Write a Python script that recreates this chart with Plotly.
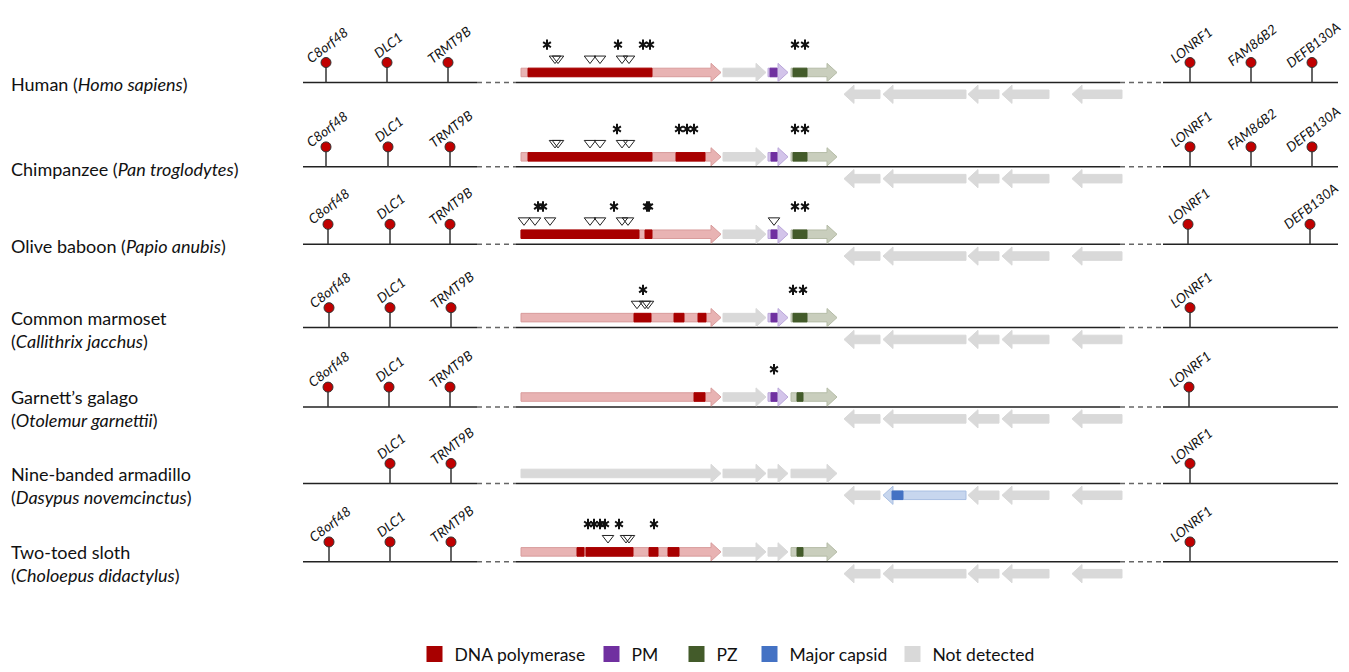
import plotly.graph_objects as go

# ---------------- data ----------------
species_labels = [
    "Human (<i>Homo sapiens</i>)",
    "Chimpanzee (<i>Pan troglodytes</i>)",
    "Olive baboon (<i>Papio anubis</i>)",
    "Common marmoset<br>(<i>Callithrix jacchus</i>)",
    "Garnett’s galago<br>(<i>Otolemur garnettii</i>)",
    "Nine-banded armadillo<br>(<i>Dasypus novemcinctus</i>)",
    "Two-toed sloth<br>(<i>Choloepus didactylus</i>)",
]

left_gene_names = ["C8orf48", "DLC1", "TRMT9B"]
left_gene_pos = [
    [326, 387, 448],
    [326, 388, 450],
    [328, 390, 450],
    [329, 390, 451],
    [328, 389, 450],
    [None, 390, 451],
    [329, 390, 451],
]
right_gene_names = ["LONRF1", "FAM86B2", "DEFB130A"]
right_gene_pos = [
    [1190, 1251, 1312],
    [1190, 1251, 1312],
    [1188, None, 1310],
    [1190, None, None],
    [1189, None, None],
    [1190, None, None],
    [1190, None, None],
]

# forward ORFs (start, tip) and reverse ORFs (tip, end)
fwd_orf_start = [521, 723, 768, 791]
fwd_orf_end = [721, 766, 788, 837]
rev_orf_tip = [844, 883, 968, 1002, 1072]
rev_orf_end = [880, 966, 999, 1049, 1122]

fwd_orf_class = [
    ["pol", "nd", "pm", "pz"],
    ["pol", "nd", "pm", "pz"],
    ["pol", "nd", "pm", "pz"],
    ["pol", "nd", "pm", "pz"],
    ["pol", "nd", "pm", "pz"],
    ["nd", "nd", "nd", "nd"],
    ["pol", "nd", "nd", "pz"],
]
rev_orf_class = [
    ["nd"] * 5, ["nd"] * 5, ["nd"] * 5, ["nd"] * 5, ["nd"] * 5,
    ["nd", "capsid", "nd", "nd", "nd"],
    ["nd"] * 5,
]

# detected protein-domain hits (start, end) per row
pol_hits = [
    [(528, 652)],
    [(528, 652), (676, 705)],
    [(521, 639), (645, 652)],
    [(634, 651), (674, 684), (698, 706)],
    [(694, 705)],
    [],
    [(577, 584), (586, 633), (649, 658), (668, 679)],
]
pm_hits = [[(770, 777)], [(771, 777)], [(771, 777)], [(771, 777)], [(771, 777)], [], []]
pz_hits = [[(793, 807)], [(793, 807)], [(793, 807)], [(793, 807)], [(797, 803)], [], [(797, 803)]]
capsid_hits = [[], [], [], [], [], [(892, 903)], []]

# stop codons (asterisks) and frameshifts (triangles)
stop_pos = [
    [547, 618, 643, 650, 795, 805],
    [617, 679, 687, 694, 795, 805],
    [538, 543, 614, 647, 649, 795, 805],
    [643, 793, 803],
    [774],
    [],
    [588, 594, 600, 605, 619, 654],
]
shift_pos = [
    [555, 558, 590, 600, 622, 629],
    [555, 558, 590, 600, 622, 629],
    [524, 535, 550, 590, 600, 622, 628, 774],
    [637, 645, 648],
    [],
    [],
    [608, 626, 629],
]

legend_names = ["DNA polymerase", "PM", "PZ", "Major capsid", "Not detected"]
legend_keys = ["pol", "pm", "pz", "capsid", "nd"]

# ---------------- layout / style ----------------
track_y = [83, 168, 246, 330, 410, 487, 566]
solid_spans = [(303, 477), (516, 1120), (1163, 1338)]
dashed_spans = [(477, 516), (1120, 1163)]
legend_square_x = [434.5, 611.5, 696.5, 769.5, 912.5]
legend_y = 659

dark_col = {"pol": "#A80000", "pm": "#7030A0", "pz": "#435B2A", "capsid": "#4472C4", "nd": "#D9D9D9"}
light_col = {"pol": "#E8B3B3", "pm": "#D3C4EA", "pz": "#C9CEBD", "capsid": "#C7D6EE", "nd": "#D9D9D9"}
edge_col = {"pol": "#D89C9C", "pm": "#BBA7DA", "pz": "#B5BCA7", "capsid": "#A9BFE2", "nd": "#D9D9D9"}

BH, HH, HL = 4.3, 9.2, 10  # body half-height, head half-height, head length
FONT = "Lato, 'Open Sans', sans-serif"
W, H = 1349, 672

fig = go.Figure()

def add_poly(xs, ys, fill, line, name):
    fig.add_trace(go.Scatter(x=xs, y=ys, mode="lines", fill="toself", fillcolor=fill,
                             line=dict(color=line, width=1), hoverinfo="skip",
                             showlegend=False, name=name))

# backbones
bx, by, dx, dy = [], [], [], []
for yb in track_y:
    for a, b in solid_spans:
        bx += [a, b, None]; by += [yb, yb, None]
    for a, b in dashed_spans:
        dx += [a, b, None]; dy += [yb, yb, None]
fig.add_trace(go.Scatter(x=bx, y=by, mode="lines", line=dict(color="#222222", width=1.5),
                         hoverinfo="skip", showlegend=False))
fig.add_trace(go.Scatter(x=dx, y=dy, mode="lines", line=dict(color="#666666", width=1.5, dash="5px,4px"),
                         hoverinfo="skip", showlegend=False))

# ORF arrows (light)
polys = {k: ([], []) for k in light_col}
for r, yb in enumerate(track_y):
    yc = yb - 10
    for s, e, c in zip(fwd_orf_start, fwd_orf_end, fwd_orf_class[r]):
        xs, ys = polys[c]
        xs += [s, e - HL, e - HL, e, e - HL, e - HL, s, s, None]
        ys += [yc - BH, yc - BH, yc - HH, yc, yc + HH, yc + BH, yc + BH, yc - BH, None]
    yc = yb + 12
    for t, e, c in zip(rev_orf_tip, rev_orf_end, rev_orf_class[r]):
        xs, ys = polys[c]
        xs += [e, t + HL, t + HL, t, t + HL, t + HL, e, e, None]
        ys += [yc - BH, yc - BH, yc - HH, yc, yc + HH, yc + BH, yc + BH, yc - BH, None]
for k, (xs, ys) in polys.items():
    if xs:
        add_poly(xs, ys, light_col[k], edge_col[k], k)

# domain hits (dark)
for key, hits, dy_off in [("pol", pol_hits, -10), ("pm", pm_hits, -10), ("pz", pz_hits, -10), ("capsid", capsid_hits, 12)]:
    xs, ys = [], []
    for r, yb in enumerate(track_y):
        yc = yb + dy_off
        for a, b in hits[r]:
            xs += [a, b, b, a, a, None]
            ys += [yc - BH, yc - BH, yc + BH, yc + BH, yc - BH, None]
    if xs:
        add_poly(xs, ys, dark_col[key], dark_col[key], key)

# flanking genes (lollipops)
sx, sy, cx, cy = [], [], [], []
for r, yb in enumerate(track_y):
    for names, poss in [(left_gene_names, left_gene_pos[r]), (right_gene_names, right_gene_pos[r])]:
        for n, p in zip(names, poss):
            if p is None:
                continue
            sx += [p, p, None]; sy += [yb - 20, yb, None]
            cx.append(p); cy.append(yb - 20)
            fig.add_annotation(x=p + 1, y=yb - 38, text=f"<i>{n}</i>", showarrow=False,
                               textangle=-38, font=dict(family=FONT, size=13.5, color="#111111"),
                               xanchor="center", yanchor="middle")
fig.add_trace(go.Scatter(x=sx, y=sy, mode="lines", line=dict(color="#333333", width=1.5),
                         hoverinfo="skip", showlegend=False))
fig.add_trace(go.Scatter(x=cx, y=cy, mode="markers",
                         marker=dict(size=10, color="#C00000", line=dict(color="#333333", width=1)),
                         hoverinfo="skip", showlegend=False))

# stop codons and frameshifts
ax, ay, tx, ty = [], [], [], []
for r, yb in enumerate(track_y):
    for p in stop_pos[r]:
        ax.append(p); ay.append(yb - 38)
    for p in shift_pos[r]:
        tx.append(p); ty.append(yb - 24)
for sym in ["y-up-open", "y-down-open"]:
    fig.add_trace(go.Scatter(x=ax, y=ay, mode="markers",
                             marker=dict(symbol=sym, size=6.5, color="#111111",
                                         line=dict(color="#111111", width=2)),
                             hoverinfo="skip", showlegend=False))
fig.add_trace(go.Scatter(x=tx, y=ty, mode="markers",
                         marker=dict(symbol="triangle-down-open", size=10, color="#222222",
                                     line=dict(color="#222222", width=1)),
                         hoverinfo="skip", showlegend=False))

# species labels
for lab, yb in zip(species_labels, track_y):
    fig.add_annotation(x=9, y=yb + 2, text=lab, showarrow=False, xanchor="left", yanchor="middle",
                       align="left", font=dict(family=FONT, size=18, color="#111111"))

# legend entries: one positioned legend per category
legend_layouts = {}
for i, (n, k, lx) in enumerate(zip(legend_names, legend_keys, legend_square_x)):
    lname = "legend" if i == 0 else f"legend{i + 1}"
    fig.add_trace(go.Scatter(x=[None], y=[None], mode="markers", name=n, legend=lname,
                             marker=dict(symbol="square", size=16, color=dark_col[k]),
                             showlegend=True))
    legend_layouts[lname] = dict(orientation="h", x=(lx - 20) / W, xanchor="left",
                                 y=1 - legend_y / H, yanchor="middle",
                                 font=dict(family=FONT, size=17.5, color="#111111"),
                                 itemwidth=30, bgcolor="rgba(0,0,0,0)", borderwidth=0)

fig.update_layout(
    width=W, height=H,
    margin=dict(l=0, r=0, t=0, b=0),
    paper_bgcolor="white", plot_bgcolor="white",
    xaxis=dict(range=[0, W], visible=False, fixedrange=True),
    yaxis=dict(range=[H, 0], visible=False, fixedrange=True),
    font=dict(family=FONT),
    **legend_layouts,
)

fig.write_html("out.html", config={"displayModeBar": False},
               post_script="document.body.style.margin='0px';")
